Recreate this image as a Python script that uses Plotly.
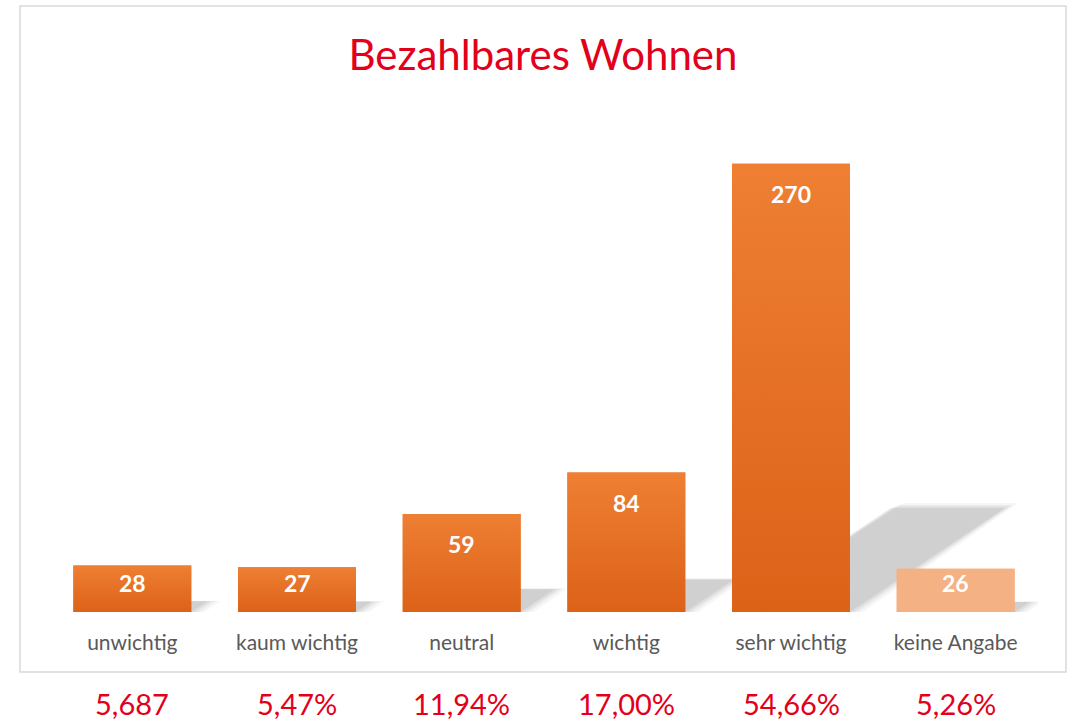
import plotly.graph_objects as go

categories = ["unwichtig", "kaum wichtig", "neutral", "wichtig", "sehr wichtig", "keine Angabe"]
values = [28, 27, 59, 84, 270, 26]
percent_labels = ["5,687", "5,47%", "11,94%", "17,00%", "54,66%", "5,26%"]
title_text = "Bezahlbares Wohnen"

# styles
W, H = 1071, 721
L, R, T, B = 50, 33, 114, 109
YMAX = 300
BAR_W = 0.716
red = "#E2001A"
font_family = "Lato, Calibri, 'Open Sans', sans-serif"
grad_orange = [[0, "#DC6218"], [1, "#EE7F33"]]
grad_light = [[0, "#F4B183"], [1, "#F4B183"]]

plot_w = W - L - R
plot_h = H - T - B
px_per_cat = plot_w / len(categories)
px_per_unit = plot_h / YMAX
half = BAR_W / 2

x_idx = list(range(len(categories)))

fig = go.Figure()
fig.add_trace(go.Bar(
    x=x_idx, y=values, width=BAR_W,
    marker=dict(color=["#E6712A"] * 5 + ["#F4B183"], line=dict(width=0)),
    hoverinfo="skip",
))

# vertical gradient overlay on each bar (same geometry as the bar)
for i, v in enumerate(values):
    cs = grad_light if categories[i] == "keine Angabe" else grad_orange
    fig.add_trace(go.Scatter(
        x=[i - half, i + half, i + half, i - half, i - half],
        y=[0, 0, v, v, 0],
        mode="lines", line=dict(width=0), fill="toself",
        fillgradient=dict(type="vertical", colorscale=cs, start=0, stop=v),
        hoverinfo="skip",
    ))

# data labels (inside end, kept inside small bars)
for i, v in enumerate(values):
    shift = min(30, v * px_per_unit - 29)
    fig.add_annotation(x=i, y=v, text=f"<b>{v}</b>", showarrow=False,
                       yanchor="middle", yshift=-shift,
                       font=dict(family=font_family, size=23, color="white"))

# soft perspective shadows derived from values
shapes = []
for i, v in enumerate(values):
    h_units = 0.232 * v
    h_px = h_units * px_per_unit
    sh = 1.49 * h_px / px_per_cat
    for grow, op in [(0.08, 0.035), (0.05, 0.045), (0.025, 0.055), (0.0, 0.06)]:
        x0 = i - half + 0.02
        x1 = i + half + grow
        hy = h_units * (1 + grow * 0.6)
        path = (f"M {x0} 0 L {x1} 0 L {x1 + sh} {hy} "
                f"L {x0 + sh + grow} {hy} Z")
        shapes.append(dict(type="path", path=path, xref="x", yref="y",
                           fillcolor=f"rgba(0,0,0,{op})", line=dict(width=0),
                           layer="below"))


def px_to_paper_x(px):
    return (px - L) / plot_w


def px_to_paper_y(py):
    return (H - B - py) / plot_h


# border frame
shapes.append(dict(type="rect", xref="paper", yref="paper",
                   x0=px_to_paper_x(20), x1=px_to_paper_x(1066),
                   y0=px_to_paper_y(672), y1=px_to_paper_y(6),
                   line=dict(color="#D9D9D9", width=1.5), fillcolor="rgba(0,0,0,0)",
                   layer="below"))

# percentage labels below the frame
for i, p in enumerate(percent_labels):
    fig.add_annotation(x=i, xref="x", y=px_to_paper_y(703), yref="paper",
                       text=p, showarrow=False, yanchor="middle",
                       font=dict(family=font_family, size=29, color=red))

fig.update_layout(
    width=W, height=H,
    margin=dict(l=L, r=R, t=T, b=B),
    paper_bgcolor="white", plot_bgcolor="white",
    showlegend=False,
    shapes=shapes,
    title=dict(text=title_text, x=543 / W, xanchor="center",
               y=1 - 55 / H, yanchor="middle", yref="container",
               font=dict(family=font_family, size=42, color=red)),
    xaxis=dict(tickmode="array", tickvals=x_idx, ticktext=categories,
               range=[-0.5, len(categories) - 0.5],
               showgrid=False, zeroline=False, showline=False,
               ticks="outside", ticklen=12, tickcolor="rgba(0,0,0,0)",
               tickfont=dict(family=font_family, size=21, color="#595959")),
    yaxis=dict(range=[0, YMAX], visible=False, showgrid=False, zeroline=False),
)

fig.write_html("out.html",
               config={"displayModeBar": False},
               post_script="document.body.style.margin='0';document.body.style.overflow='hidden';")
